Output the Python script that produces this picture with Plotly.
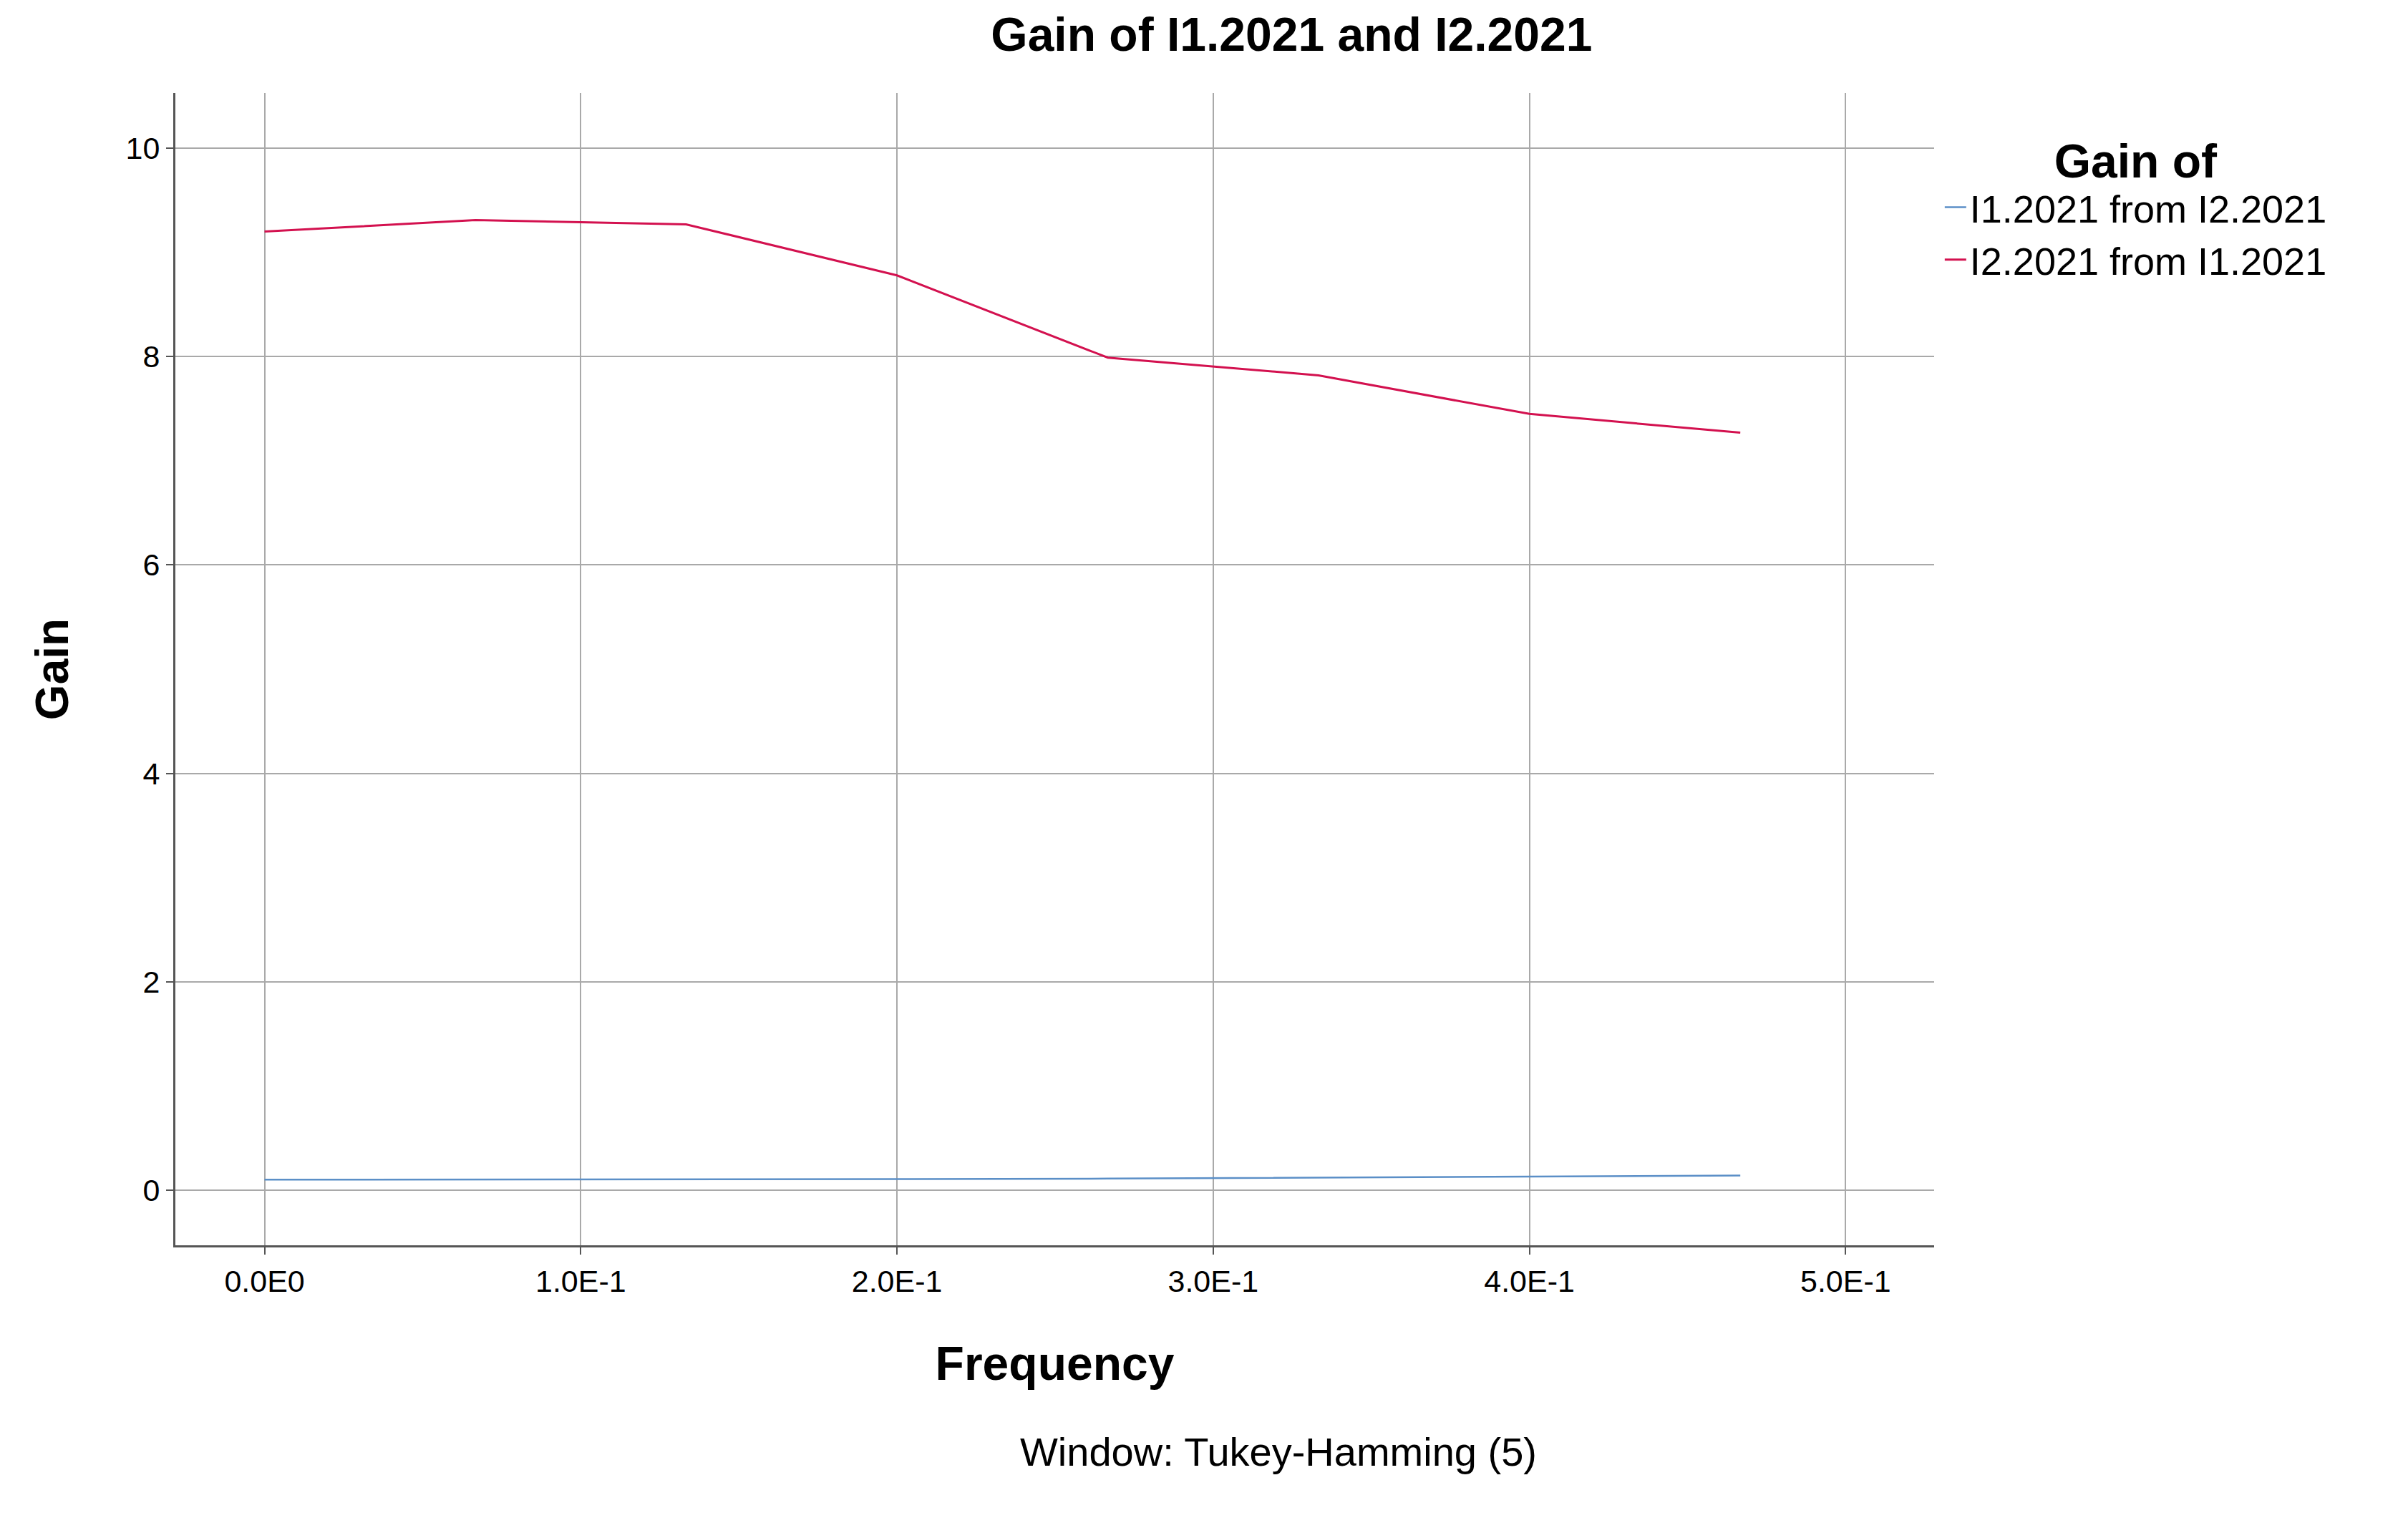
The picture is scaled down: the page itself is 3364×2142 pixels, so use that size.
import plotly.graph_objects as go

frequency = [0.0, 0.0667, 0.1333, 0.2, 0.2667, 0.3333, 0.4, 0.4667]
gain_i1_from_i2 = [0.10, 0.10, 0.10, 0.105, 0.11, 0.12, 0.13, 0.14]
gain_i2_from_i1 = [9.20, 9.31, 9.27, 8.78, 7.99, 7.82, 7.45, 7.27]
x_ticks = [0.0, 0.1, 0.2, 0.3, 0.4, 0.5]
x_tick_labels = ["0.0E0", "1.0E-1", "2.0E-1", "3.0E-1", "4.0E-1", "5.0E-1"]

fig = go.Figure()
fig.add_trace(go.Scatter(x=frequency, y=gain_i1_from_i2, mode="lines",
                         name="I1.2021 from I2.2021",
                         line=dict(color="#5b8fc7", width=2.5)))
fig.add_trace(go.Scatter(x=frequency, y=gain_i2_from_i1, mode="lines",
                         name="I2.2021 from I1.2021",
                         line=dict(color="#d3114f", width=3)))

fig.update_layout(
    width=3364, height=2142,
    paper_bgcolor="white", plot_bgcolor="white",
    font=dict(family="Arial, Liberation Sans", color="black"),
    margin=dict(l=237, r=670, t=122, b=410),
    title=dict(text="<b>Gain of I1.2021 and I2.2021</b>", x=0.534, xanchor="center",
               y=0.992, yanchor="top", font=dict(size=66)),
    legend=dict(title=dict(text="<b>Gain of</b>", font=dict(size=66), side="top center"),
                x=1.004, y=0.98, xanchor="left", yanchor="top",
                font=dict(size=54), bgcolor="rgba(0,0,0,0)"),
    annotations=[dict(text="Window: Tukey-Hamming (5)", x=0.627, y=-0.2,
                      xref="paper", yref="paper", showarrow=False,
                      font=dict(size=56))],
)
fig.update_xaxes(range=[-0.0282, 0.528], tickvals=x_ticks, ticktext=x_tick_labels,
                 showgrid=True, gridcolor="#a9a9a9", gridwidth=2,
                 showline=True, linecolor="#555", linewidth=3,
                 ticks="outside", ticklen=10, tickcolor="#555", tickwidth=2,
                 tickfont=dict(size=43), zeroline=False,
                 title=dict(text="<b>Frequency</b>", font=dict(size=66), standoff=70))
fig.update_yaxes(range=[-0.53, 10.53], tickvals=[0, 2, 4, 6, 8, 10],
                 showgrid=True, gridcolor="#a9a9a9", gridwidth=2,
                 showline=True, linecolor="#555", linewidth=3,
                 ticks="outside", ticklen=10, tickcolor="#555", tickwidth=2,
                 tickfont=dict(size=43), zeroline=False,
                 title=dict(text="<b>Gain</b>", font=dict(size=64), standoff=60))

fig.write_html("out.html")
